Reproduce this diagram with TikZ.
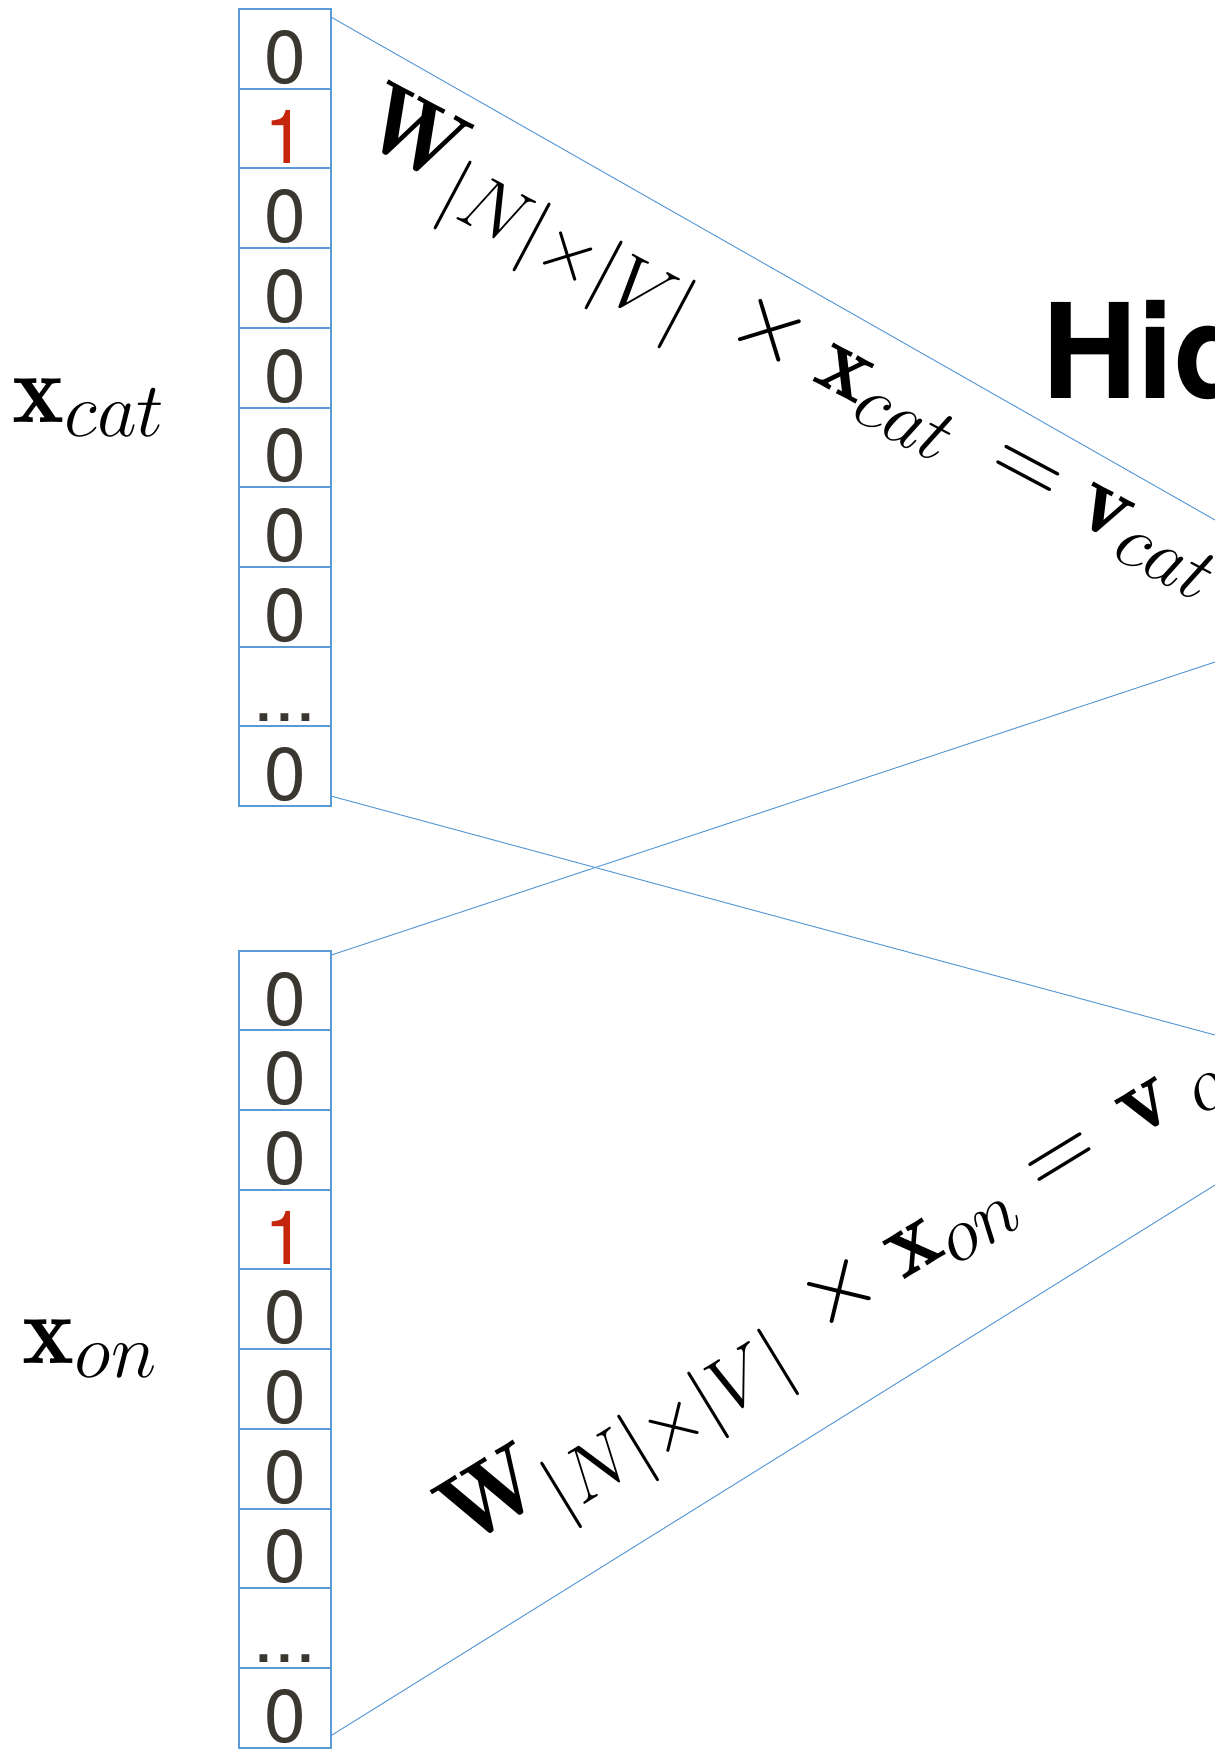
\RequirePackage{fix-cm}
\documentclass[tikz,border=0pt]{standalone}
\usepackage{amsmath,amssymb,bm}
\usepackage{fontspec}
\newfontfamily\digitfont{TeX Gyre Heros}
\usetikzlibrary{positioning}
\DeclareMathSizes{28}{28}{22}{16}
\definecolor{cellblue}{HTML}{5B9BD5}
\definecolor{digitgray}{HTML}{3A3630}
\definecolor{hotred}{HTML}{C3260C}
\tikzset{
  cell/.style={draw=cellblue, line width=0.2mm, minimum width=9.2mm,
    minimum height=7.97mm, inner sep=0pt, outer sep=0pt, text=digitgray,
    text height=6.9mm, text depth=0pt,
    font=\digitfont\fontsize{21.3}{22}\selectfont},
  hotcell/.style={cell, text=hotred},
  link/.style={draw=cellblue, line width=0.1mm},
  veclabel/.style={inner sep=0pt, anchor=base west,
    font=\fontsize{28}{30}\selectfont},
  layertitle/.style={inner sep=0pt, anchor=base west,
    font=\digitfont\bfseries\fontsize{37.5}{40}\selectfont}
}

\begin{document}
\begin{tikzpicture}[x=0.1mm, y=-0.1mm]
    \useasboundingbox (0,0) rectangle (1215,1750);
    \clip (0,0) rectangle (1215,1750);
    % one-hot vector of "cat"
    \node[cell] (cat1) at (285,48.9) {0};
    \node[hotcell, below=0pt of cat1] (cat2) {1};
    \node[cell, below=0pt of cat2] (cat3) {0};
    \node[cell, below=0pt of cat3] (cat4) {0};
    \node[cell, below=0pt of cat4] (cat5) {0};
    \node[cell, below=0pt of cat5] (cat6) {0};
    \node[cell, below=0pt of cat6] (cat7) {0};
    \node[cell, below=0pt of cat7] (cat8) {0};
    \node[cell, below=0pt of cat8] (cat9) {...};
    \node[cell, below=0pt of cat9] (cat10) {0};
    % one-hot vector of "on"
    \node[cell] (on1) at (285,990.5) {0};
    \node[cell, below=0pt of on1] (on2) {0};
    \node[cell, below=0pt of on2] (on3) {0};
    \node[hotcell, below=0pt of on3] (on4) {1};
    \node[cell, below=0pt of on4] (on5) {0};
    \node[cell, below=0pt of on5] (on6) {0};
    \node[cell, below=0pt of on6] (on7) {0};
    \node[cell, below=0pt of on7] (on8) {0};
    \node[cell, below=0pt of on8] (on9) {...};
    \node[cell, below=0pt of on9] (on10) {0};
    \node[veclabel] (xcat) at (12,422) {$\mathbf{x}_{cat}$};
    \node[veclabel] (xon) at (22,1363) {$\mathbf{x}_{on}$};
    \node[veclabel, rotate=-28] (wcat) at (355,138)
      {$\mathbf{W}_{|N|\times|V|}\,\times\mathbf{x}_{cat}\,=\mathbf{v}_{cat}$};
    \node[veclabel, rotate=31.4] (won) at (463,1550)
      {$\mathbf{W}_{|N|\times|V|}\,\times\mathbf{x}_{on}=\mkern2mu\mathbf{v}\,{}_{on}$};
    \node[layertitle] (hidden) at (1042,398) {Hidden layer};
    % projections towards the hidden layer
    \coordinate (hcat1) at (1215,520);
    \coordinate (hcat2) at (1215,1035);
    \coordinate (hon1) at (1215,662);
    \coordinate (hon2) at (1215,1185);
    \draw[link] ([yshift=-0.8mm]cat1.north east) -- (hcat1);
    \draw[link] ([yshift=1mm]cat10.south east) -- (hcat2);
    \draw[link] ([yshift=-0.45mm]on1.north east) -- (hon1);
    \draw[link] ([yshift=1.2mm]on10.south east) -- (hon2);
  \end{tikzpicture}
\end{document}
